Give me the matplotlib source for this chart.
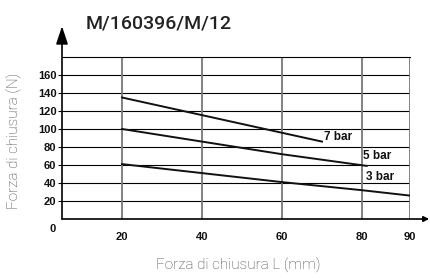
import numpy as np
import matplotlib.pyplot as plt

# dati
x_ticks = [20, 40, 60, 80, 90]
y_ticks = [20, 40, 60, 80, 100, 120, 140, 160]

x_7bar = [20, 70]
y_7bar = [135, 86]
x_5bar = [20, 40, 60, 81]
y_5bar = [100, 86, 72, 59]
x_3bar = [20, 40, 60, 80, 90]
y_3bar = [61, 51, 41, 32, 26]

labels = ["7 bar", "5 bar", "3 bar"]
label_pos = [(70.5, 91), (80.2, 70), (80.8, 47)]

title = "M/160396/M/12"
xlabel = "Forza di chiusura L (mm)"
ylabel = "Forza di chiusura (N)"

# la scala x nel disegno originale non e' lineare dopo 80
src = [0, 80, 90, 200]
dst = [0, 80, 92, 202]
def fwd(x):
    return np.interp(x, src, dst)
def inv(x):
    return np.interp(x, dst, src)

fig = plt.figure(figsize=(4.3, 2.78), dpi=100)
ax = fig.add_axes([62/430, 1-219/278, 348/430, 162/278])
ax.set_xscale('function', functions=(fwd, inv))
ax.set_xlim(5, 90)
ax.set_ylim(0, 180)

for v in y_ticks:
    ax.axhline(v, color='black', lw=0.8, zorder=1)
for v in x_ticks:
    ax.axvline(v, color='#777777', lw=1.3, zorder=1)

ax.plot(x_7bar, y_7bar, color='#111111', lw=1.4, zorder=3)
ax.plot(x_5bar, y_5bar, color='#111111', lw=1.4, zorder=3)
ax.plot(x_3bar, y_3bar, color='#111111', lw=1.4, zorder=3)

for lab, (lx, ly) in zip(labels, label_pos):
    ax.text(lx, ly, lab, fontsize=8.5, fontweight='bold', family='Liberation Sans',
            va='center', ha='left', color='#111111', zorder=4)

ax.set_xticks(x_ticks)
ax.set_xticklabels([str(v) for v in x_ticks])
ax.set_yticks(y_ticks)
ax.set_yticklabels([str(v) for v in y_ticks])
ax.tick_params(axis='x', length=0, pad=9, labelsize=8)
ax.tick_params(axis='y', length=3, width=0.8, pad=1, labelsize=8)
for t in ax.get_xticklabels() + ax.get_yticklabels():
    t.set_fontweight('bold')
    t.set_family('Liberation Sans')
    t.set_color('#111111')

ax.spines['left'].set_visible(False)
ax.spines['bottom'].set_visible(False)
ax.spines['right'].set_visible(False)
ax.spines['top'].set_color('black')
ax.spines['top'].set_linewidth(0.8)

# assi con frecce
ax.annotate('', xy=(0, 1.19), xytext=(0, 0), xycoords='axes fraction',
            arrowprops=dict(arrowstyle='-|>,head_length=0.9,head_width=0.3', color='black', lw=1.2,
                            mutation_scale=12, shrinkA=0, shrinkB=0))
ax.annotate('', xy=(1.055, 0), xytext=(0, 0), xycoords='axes fraction',
            arrowprops=dict(arrowstyle='-|>', color='black', lw=1.2,
                            mutation_scale=8, shrinkA=0, shrinkB=0))

ax.text(-0.026, -0.062, "0", transform=ax.transAxes, fontsize=8, fontweight='bold',
        family='Liberation Sans', ha='center', va='center', color='#111111')

fig.text(86/430, 1-23/278, title, fontsize=14, family='Roboto', fontweight='medium',
         ha='left', va='center', color='#222222')
fig.text(238/430, 1-265/278, xlabel, fontsize=11, family='Roboto', fontweight='light',
         ha='center', va='center', color='#444444')
fig.text(14/430, 1-141/278, ylabel, fontsize=11, family='Roboto', fontweight='light',
         ha='center', va='center', rotation=90, color='#444444')

fig.savefig('out.png', dpi=100)
